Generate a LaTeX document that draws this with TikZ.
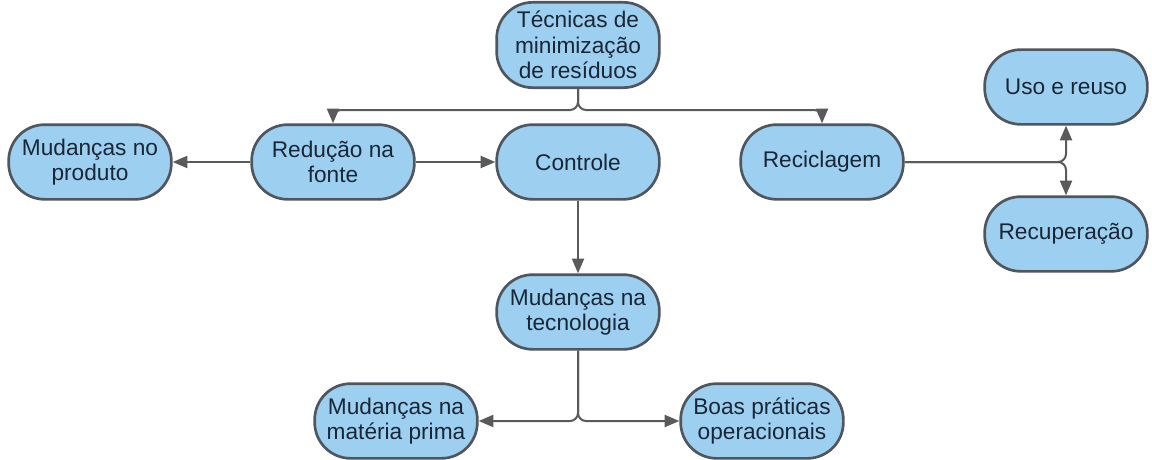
\documentclass[tikz,border=0pt]{standalone}
\usepackage{fontspec}
\setmainfont{Liberation Sans}
\usepackage{tikz}
\usetikzlibrary{calc}
\usetikzlibrary{arrows.meta}
\definecolor{boxfill}{RGB}{157,208,240}
\definecolor{boxdraw}{RGB}{80,86,94}
\definecolor{boxtext}{RGB}{24,38,54}
\definecolor{linkcol}{RGB}{90,90,90}
\tikzset{
  box/.style = {rectangle, rounded corners=27pt, align=center, inner sep=0pt,
    minimum width=122pt, minimum height=56pt, fill=boxfill, draw=boxdraw,
    line width=2pt, text=boxtext, font=\fontsize{17}{19}\selectfont},
  tallbox/.style = {box, minimum height=64pt},% tres linhas
  link/.style = {->, draw=linkcol, line width=1.5pt, rounded corners=6pt},
}

\begin{document}
\begin{tikzpicture}[x=0.75pt,y=-0.75pt,>={Triangle[length=11pt,width=9pt]}]
\useasboundingbox (0,0) rectangle (1152,460);
% topo
\node [tallbox] (tec) at (578,45) {Técnicas de\\minimização\\de resíduos};
% primeira linha
\node [box] (prod) at (90,162) {Mudanças no\\produto};
\node [box] (red) at (333,162) {Redução na\\fonte};
\node [box] (ctl) at (578,162) {Controle};
\node [box] (recic) at (822,162) {Reciclagem};
\node [box] (uso) at (1066,87) {Uso e reuso};
\node [box] (recup) at (1066,234) {Recuperação};
% parte de baixo
\node [box] (tecno) at (578,312) {Mudanças na\\tecnologia};
\node [box] (mat) at (396,421) {Mudanças na\\matéria prima};
\node [box] (boas) at (762,421) {Boas práticas\\operacionais};

\coordinate (bus) at (578,110);
\draw [link] (tec.south) -- (bus) -| (red.north);
\draw [link] (tec.south) -- (bus) -| (recic.north);
\draw [link] (red.west) -- (prod.east);
\draw [link] (red.east) -- (ctl.west);
\draw [link] (ctl.south) -- (tecno.north);
\draw [link] (recic.east) -| (uso.south);
\draw [link] (recic.east) -| (recup.north);
\draw [link] (tecno.south) |- (mat.east);
\draw [link] (tecno.south) |- (boas.west);
\end{tikzpicture}
\end{document}
